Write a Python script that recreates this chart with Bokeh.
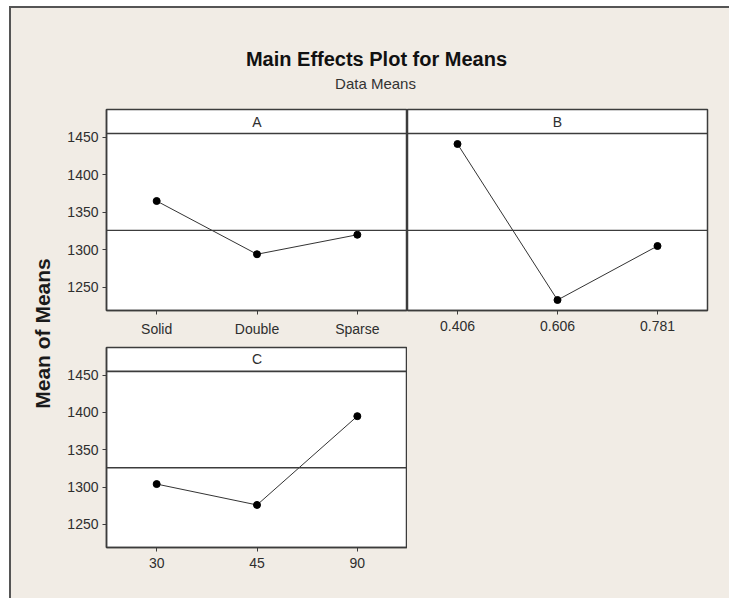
from bokeh.plotting import figure
from bokeh.layouts import column, row
from bokeh.models import Spacer, Span, Range1d, FixedTicker, Label
from bokeh.core.properties import value
from bokeh.embed import file_html
from bokeh.resources import INLINE

# ---- data: mean response at each factor level ----
a_levels = ["Solid", "Double", "Sparse"]
a_means = [1365, 1294, 1320]

b_levels = ["0.406", "0.606", "0.781"]
b_means = [1441, 1233, 1305]

c_levels = ["30", "45", "90"]
c_means = [1304, 1276, 1395]

y_ticks = [1250, 1300, 1350, 1400, 1450]

all_means = a_means + b_means + c_means
grand_mean = sum(all_means) / len(all_means)

# ---- styling ----
BG = "#F1ECE5"
DARK = "#3c3c3c"
FONT = "Liberation Sans"
Y_LO, Y_HI = 1219, 1487
STRIP_Y = 1455  # lower edge of the panel header strip
BG_STYLE = {"background-color": BG}


def panel(name, levels, means, width, height, left, right, top, bottom, show_y):
    p = figure(
        x_range=levels,
        y_range=Range1d(Y_LO, Y_HI),
        width=width,
        height=height,
        output_backend="svg",
        toolbar_location=None,
        y_axis_location="left" if show_y else None,
        min_border_left=left,
        min_border_right=right,
        min_border_top=top,
        min_border_bottom=bottom,
        styles=BG_STYLE,
    )
    p.background_fill_color = "white"
    p.border_fill_color = BG
    p.outline_line_color = DARK
    p.outline_line_width = 1.5
    p.grid.visible = False

    p.xaxis.axis_line_color = DARK
    p.xaxis.axis_line_width = 1.5
    p.xaxis.major_tick_line_color = DARK
    p.xaxis.major_tick_out = 4
    p.xaxis.major_tick_in = 0
    p.xaxis.major_label_standoff = 6
    p.xaxis.major_label_text_font = FONT
    p.xaxis.major_label_text_font_size = "14px"
    p.xaxis.major_label_text_color = "#2e2e2e"

    if show_y:
        p.yaxis.ticker = FixedTicker(ticks=y_ticks)
        p.yaxis.axis_line_color = DARK
        p.yaxis.axis_line_width = 1.5
        p.yaxis.major_tick_line_color = DARK
        p.yaxis.major_tick_out = 4
        p.yaxis.major_tick_in = 0
        p.yaxis.minor_tick_out = 0
        p.yaxis.minor_tick_in = 0
        p.yaxis.major_label_standoff = 4
        p.yaxis.major_label_text_font = FONT
        p.yaxis.major_label_text_font_size = "14px"
        p.yaxis.major_label_text_color = "#2e2e2e"

    # grand mean reference line and header strip border
    p.add_layout(Span(location=grand_mean, dimension="width",
                      line_color=DARK, line_width=1.3))
    p.add_layout(Span(location=STRIP_Y, dimension="width",
                      line_color=DARK, line_width=1.6))

    # level means
    p.line(levels, means, line_color="#333333", line_width=1)
    p.scatter(levels, means, size=7, fill_color="black", line_color="black")

    # factor name in the strip
    p.text(x=[levels[1]], y=[(STRIP_Y + Y_HI) / 2], text=[name],
           text_align="center", text_baseline="middle",
           text_font=value(FONT), text_font_size="14px", text_color="#2e2e2e")
    return p


pa = panel("A", a_levels, a_means, 345, 240, 44, 0, 9, 30, True)
pb = panel("B", b_levels, b_means, 322, 240, 0, 22, 9, 30, False)
pc = panel("C", c_levels, c_means, 345, 258, 44, 0, 7, 51, True)

# ---- header with titles ----
header = figure(width=718, height=92, x_range=Range1d(0, 718), y_range=Range1d(0, 92),
                x_axis_type=None, y_axis_type=None, output_backend="svg",
                toolbar_location=None, min_border=0, styles=BG_STYLE)
header.outline_line_color = None
header.background_fill_color = BG
header.border_fill_color = BG
header.grid.visible = False
header.add_layout(Label(x=365, y=42, text="Main Effects Plot for Means",
                        text_align="center", text_baseline="alphabetic",
                        text_font=FONT, text_font_style="bold",
                        text_font_size="20px", text_color="#111111"))
header.add_layout(Label(x=364, y=17, text="Data Means",
                        text_align="center", text_baseline="alphabetic",
                        text_font=FONT, text_font_size="15px",
                        text_color="#333333"))

# ---- shared y-axis title ----
ylab = figure(width=51, height=498, x_range=Range1d(0, 51), y_range=Range1d(0, 498),
              x_axis_type=None, y_axis_type=None, output_backend="svg",
              toolbar_location=None, min_border=0, styles=BG_STYLE)
ylab.outline_line_color = None
ylab.background_fill_color = BG
ylab.border_fill_color = BG
ylab.grid.visible = False
ylab.add_layout(Label(x=31, y=265, text="Mean of Means", angle=1.5708,
                      text_align="center", text_baseline="middle",
                      text_font=FONT, text_font_style="bold",
                      text_font_size="21px", text_color="#1a1a1a"))

panels = column(
    row(pa, pb, styles=BG_STYLE),
    row(pc, Spacer(width=322, height=258, styles=BG_STYLE), styles=BG_STYLE),
    styles=BG_STYLE,
)
content = column(header, row(ylab, panels, styles=BG_STYLE), styles=BG_STYLE)

framed = column(
    Spacer(width=720, height=2, styles={"background-color": "#555555"}),
    row(Spacer(width=2, height=590, styles={"background-color": "#555555"}), content,
        styles=BG_STYLE),
)

layout = column(
    Spacer(width=729, height=6),
    row(Spacer(width=9, height=592), framed),
)

open("out.html", "w").write(file_html(layout, INLINE))
